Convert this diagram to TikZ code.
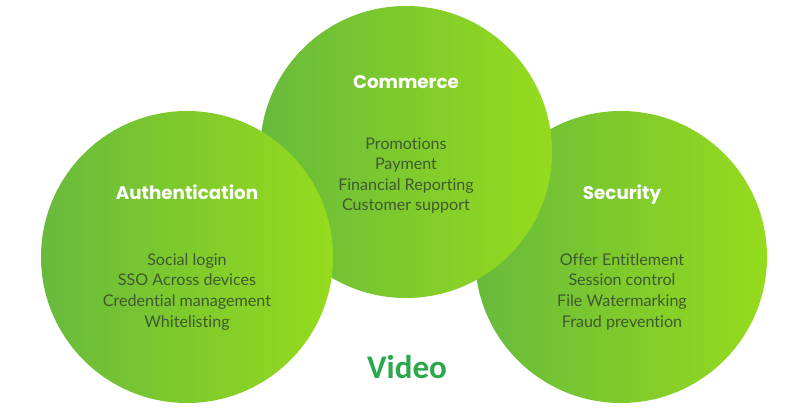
\documentclass[tikz,border=0pt]{standalone}
\usepackage{fontspec}
\setmainfont[Ligatures=NoCommon]{Lato}
\newfontfamily\titlefont{Poppins}
\newfontfamily\videofont{Carlito}
\definecolor{gleft}{HTML}{68BA3C}
\definecolor{gright}{HTML}{95DB1D}
\definecolor{bodytext}{HTML}{3E5A30}
\definecolor{videogreen}{HTML}{2AA84A}
\begin{document}
\begin{tikzpicture}[x=1pt,y=-1pt,
  circ/.style={circle,minimum size=292pt,inner sep=0pt,draw=none,left color=gleft,right color=gright},
  ttl/.style={anchor=base,text=white,font=\titlefont\bfseries\fontsize{18.3}{22}\selectfont},
  body/.style={anchor=base,align=center,text=bodytext,font=\fontsize{16.1}{20.6}\selectfont},
  vid/.style={anchor=base,text=videogreen,font=\videofont\bfseries\fontsize{33}{36}\selectfont}]
\useasboundingbox[fill=white] (0,0) rectangle (797,419);
\node[circ] (sec) at (621,257) {};
\node[circ] (com) at (406,152) {};
\node[circ] (aut) at (187,257) {};
\node[ttl] (comt) at (406,89) {Commerce};
\node[ttl] (autt) at (187,200) {Authentication};
\node[ttl] (sect) at (622,200) {Security};
\node[body] (comb) at (406,211) {Promotions\\Payment\\Financial Reporting\\Customer support};
\node[body] (autb) at (187,327) {Social login\\SSO Across devices\\Credential management\\Whitelisting};
\node[body] (secb) at (622,327) {Offer Entitlement\\Session control\\File Watermarking\\Fraud prevention};
\node[vid] (video) at (407,378) {Video};
\end{tikzpicture}
\end{document}
